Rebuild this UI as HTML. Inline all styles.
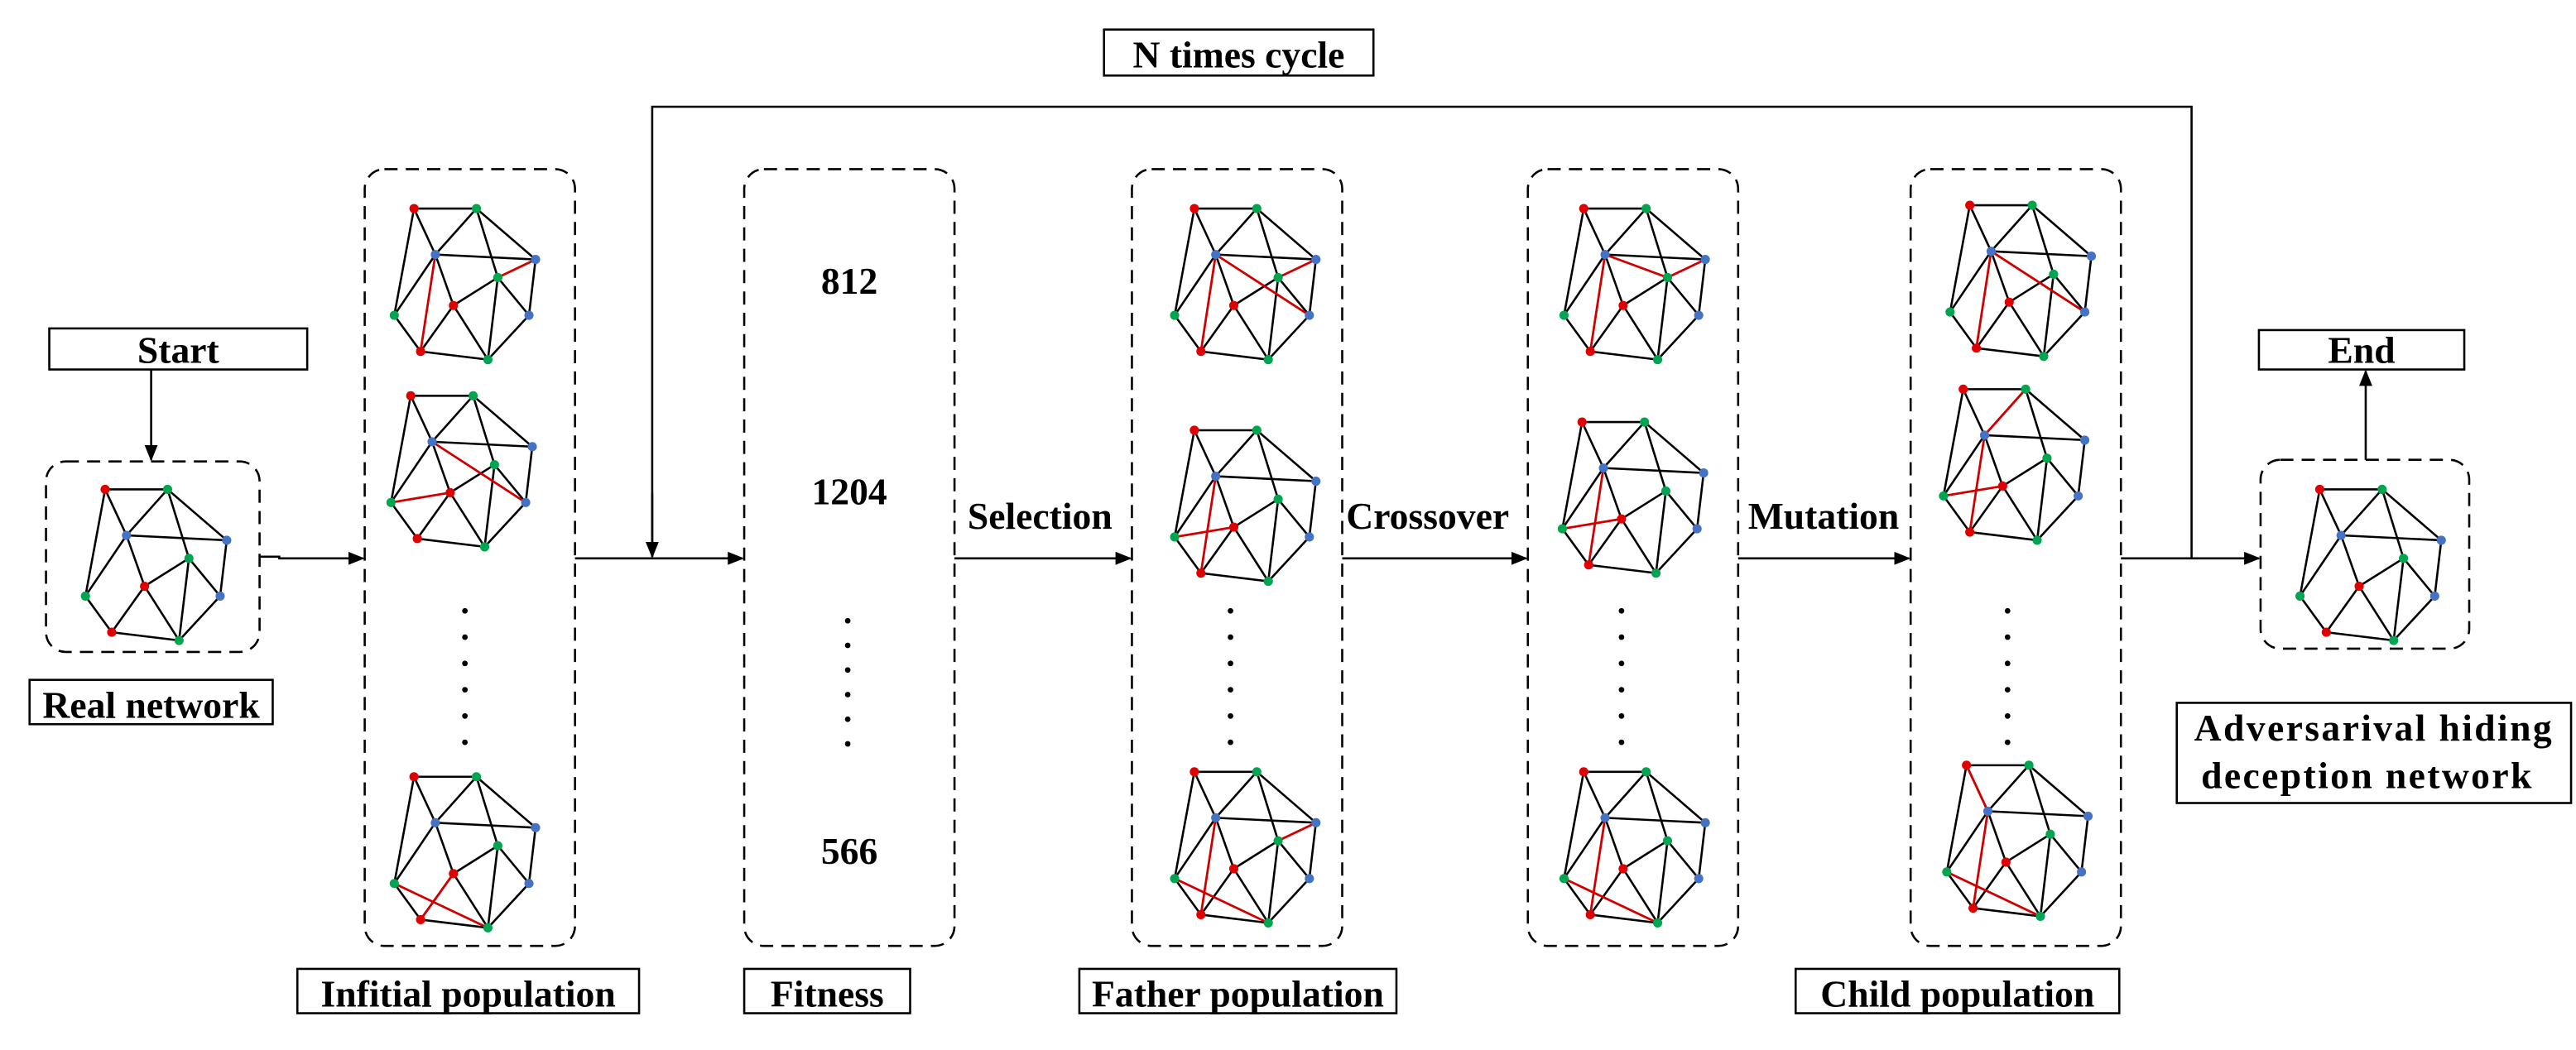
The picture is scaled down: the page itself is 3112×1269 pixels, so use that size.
<!DOCTYPE html>
<html><head><meta charset="utf-8"><style>
html,body{margin:0;padding:0;background:#fff;}
svg{display:block;}
text{font-family:"Liberation Serif",serif;font-weight:bold;fill:#000;}
</style></head><body>
<svg width="3112" height="1269" viewBox="0 0 1568 639.4" preserveAspectRatio="none" xmlns="http://www.w3.org/2000/svg">
<defs>
<marker id="ar" markerWidth="10" markerHeight="8" refX="9" refY="4" orient="auto" markerUnits="userSpaceOnUse">
<path d="M0,0 L10,4 L0,8 Z" fill="#000"/></marker>
<g id="e" stroke="#000" stroke-width="1.3" fill="none">
<line x1="0" y1="0" x2="38" y2="0"/><line x1="0" y1="0" x2="13" y2="28"/><line x1="0" y1="0" x2="-12" y2="65"/>
<line x1="38" y1="0" x2="13" y2="28"/><line x1="38" y1="0" x2="51" y2="42"/><line x1="38" y1="0" x2="74" y2="31"/>
<line x1="13" y1="28" x2="74" y2="31"/><line x1="13" y1="28" x2="24" y2="59"/><line x1="13" y1="28" x2="-12" y2="65"/>
<line x1="51" y1="42" x2="24" y2="59"/><line x1="51" y1="42" x2="70" y2="65"/><line x1="51" y1="42" x2="45" y2="92"/>
<line x1="74" y1="31" x2="70" y2="65"/><line x1="24" y1="59" x2="4" y2="87"/><line x1="24" y1="59" x2="45" y2="92"/>
<line x1="-12" y1="65" x2="4" y2="87"/><line x1="4" y1="87" x2="45" y2="92"/><line x1="70" y1="65" x2="45" y2="92"/>
</g>
<g id="n">
<circle cx="0" cy="0" r="2.8" fill="#e00000"/><circle cx="38" cy="0" r="2.8" fill="#00a550"/>
<circle cx="13" cy="28" r="2.8" fill="#4472c4"/><circle cx="74" cy="31" r="2.8" fill="#4472c4"/>
<circle cx="51" cy="42" r="2.8" fill="#00a550"/><circle cx="24" cy="59" r="2.8" fill="#e00000"/>
<circle cx="-12" cy="65" r="2.8" fill="#00a550"/><circle cx="70" cy="65" r="2.8" fill="#4472c4"/>
<circle cx="4" cy="87" r="2.8" fill="#e00000"/><circle cx="45" cy="92" r="2.8" fill="#00a550"/>
</g>
</defs>

<g stroke="#000" stroke-width="1.3" fill="none">
<g stroke-dasharray="8 5">
<rect x="28" y="281" width="130" height="116" rx="12"/>
<rect x="222" y="103" width="128" height="473" rx="12"/>
<rect x="453" y="103" width="128" height="473" rx="12"/>
<rect x="689" y="103" width="128" height="473" rx="12"/>
<rect x="930" y="103" width="128" height="473" rx="12"/>
<rect x="1163" y="103" width="128" height="473" rx="12"/>
<rect x="1376" y="280" width="127" height="115" rx="12"/>
</g>
<rect x="30" y="200" width="157" height="25"/>
<rect x="18" y="414" width="148" height="27"/>
<rect x="181" y="590" width="208" height="27"/>
<rect x="453" y="590" width="101" height="27"/>
<rect x="657" y="590" width="193" height="27"/>
<rect x="1093" y="590" width="197" height="27"/>
<rect x="672" y="18" width="164" height="28"/>
<rect x="1375" y="201" width="125" height="24"/>
<rect x="1325" y="428" width="240" height="61"/>
<line x1="92" y1="225" x2="92" y2="280" marker-end="url(#ar)"/>
<polyline points="158,339 170,339 170,340 221,340" marker-end="url(#ar)"/>
<line x1="350" y1="340" x2="452" y2="340" marker-end="url(#ar)"/>
<line x1="581" y1="340" x2="688" y2="340" marker-end="url(#ar)"/>
<line x1="817" y1="340" x2="929" y2="340" marker-end="url(#ar)"/>
<line x1="1058" y1="340" x2="1162" y2="340" marker-end="url(#ar)"/>
<line x1="1291" y1="340" x2="1375" y2="340" marker-end="url(#ar)"/>
<polyline points="397,339 397,65 1334,65 1334,340"/>
<line x1="397" y1="300" x2="397" y2="339" marker-end="url(#ar)"/>
<line x1="1440" y1="280" x2="1440" y2="226" marker-end="url(#ar)"/>
</g>

<g font-size="23" text-anchor="middle">
<text x="108.5" y="221">Start</text>
<text x="92" y="437">Real network</text>
<text x="285" y="613">Infitial population</text>
<text x="503.5" y="613">Fitness</text>
<text x="753.5" y="613">Father population</text>
<text x="1191.5" y="613">Child population</text>
<text x="754" y="41">N times cycle</text>
<text x="1437.5" y="221">End</text>
<text x="1445" y="451" letter-spacing="1.2">Adversarival hiding</text>
<text x="1441" y="480" letter-spacing="1.2">deception  network</text>
<text x="633" y="322">Selection</text>
<text x="869" y="322">Crossover</text>
<text x="1110" y="322">Mutation</text>
<text x="517" y="179">812</text>
<text x="517" y="307">1204</text>
<text x="517" y="526">566</text>
</g>

<g fill="#000">
<circle cx="516" cy="378" r="1.7"/><circle cx="516" cy="393" r="1.7"/><circle cx="516" cy="408" r="1.7"/><circle cx="516" cy="423" r="1.7"/><circle cx="516" cy="438" r="1.7"/><circle cx="516" cy="453" r="1.7"/>
<circle cx="283" cy="372" r="1.7"/><circle cx="283" cy="388" r="1.7"/><circle cx="283" cy="404" r="1.7"/><circle cx="283" cy="420" r="1.7"/><circle cx="283" cy="436" r="1.7"/><circle cx="283" cy="452" r="1.7"/>
<circle cx="749" cy="372" r="1.7"/><circle cx="749" cy="388" r="1.7"/><circle cx="749" cy="404" r="1.7"/><circle cx="749" cy="420" r="1.7"/><circle cx="749" cy="436" r="1.7"/><circle cx="749" cy="452" r="1.7"/>
<circle cx="987" cy="372" r="1.7"/><circle cx="987" cy="388" r="1.7"/><circle cx="987" cy="404" r="1.7"/><circle cx="987" cy="420" r="1.7"/><circle cx="987" cy="436" r="1.7"/><circle cx="987" cy="452" r="1.7"/>
<circle cx="1222" cy="372" r="1.7"/><circle cx="1222" cy="388" r="1.7"/><circle cx="1222" cy="404" r="1.7"/><circle cx="1222" cy="420" r="1.7"/><circle cx="1222" cy="436" r="1.7"/><circle cx="1222" cy="452" r="1.7"/>
</g>

<g transform="translate(64,298)"><use href="#e"/><use href="#n"/></g>

<g transform="translate(252,127)"><use href="#e"/><g stroke="#d00000" stroke-width="1.4"><line x1="13" y1="28" x2="4" y2="87"/><line x1="51" y1="42" x2="74" y2="31"/></g><use href="#n"/></g>
<g transform="translate(250,241)"><use href="#e"/><g stroke="#d00000" stroke-width="1.4"><line x1="13" y1="28" x2="70" y2="65"/><line x1="-12" y1="65" x2="24" y2="59"/></g><use href="#n"/></g>
<g transform="translate(252,473)"><use href="#e"/><g stroke="#d00000" stroke-width="1.4"><line x1="-12" y1="65" x2="45" y2="92"/><line x1="24" y1="59" x2="4" y2="87"/></g><use href="#n"/></g>

<g transform="translate(727,127)"><use href="#e"/><g stroke="#d00000" stroke-width="1.4"><line x1="13" y1="28" x2="4" y2="87"/><line x1="13" y1="28" x2="70" y2="65"/><line x1="51" y1="42" x2="74" y2="31"/></g><use href="#n"/></g>
<g transform="translate(727,262)"><use href="#e"/><g stroke="#d00000" stroke-width="1.4"><line x1="13" y1="28" x2="4" y2="87"/><line x1="-12" y1="65" x2="24" y2="59"/></g><use href="#n"/></g>
<g transform="translate(727,470)"><use href="#e"/><g stroke="#d00000" stroke-width="1.4"><line x1="13" y1="28" x2="4" y2="87"/><line x1="-12" y1="65" x2="45" y2="92"/><line x1="51" y1="42" x2="74" y2="31"/></g><use href="#n"/></g>

<g transform="translate(964,127)"><use href="#e"/><g stroke="#d00000" stroke-width="1.4"><line x1="13" y1="28" x2="4" y2="87"/><line x1="13" y1="28" x2="51" y2="42"/><line x1="51" y1="42" x2="74" y2="31"/></g><use href="#n"/></g>
<g transform="translate(963,257)"><use href="#e"/><g stroke="#d00000" stroke-width="1.4"><line x1="13" y1="28" x2="4" y2="87"/><line x1="-12" y1="65" x2="24" y2="59"/></g><use href="#n"/></g>
<g transform="translate(964,470)"><use href="#e"/><g stroke="#d00000" stroke-width="1.4"><line x1="13" y1="28" x2="4" y2="87"/><line x1="-12" y1="65" x2="45" y2="92"/></g><use href="#n"/></g>

<g transform="translate(1199,125)"><use href="#e"/><g stroke="#d00000" stroke-width="1.4"><line x1="13" y1="28" x2="4" y2="87"/><line x1="13" y1="28" x2="70" y2="65"/></g><use href="#n"/></g>
<g transform="translate(1195,237)"><use href="#e"/><g stroke="#d00000" stroke-width="1.4"><line x1="13" y1="28" x2="4" y2="87"/><line x1="13" y1="28" x2="38" y2="0"/><line x1="-12" y1="65" x2="24" y2="59"/></g><use href="#n"/></g>
<g transform="translate(1197,466)"><use href="#e"/><g stroke="#d00000" stroke-width="1.4"><line x1="13" y1="28" x2="4" y2="87"/><line x1="0" y1="0" x2="13" y2="28"/><line x1="-12" y1="65" x2="45" y2="92"/></g><use href="#n"/></g>

<g transform="translate(1412,298)"><use href="#e"/><use href="#n"/></g>
</svg>
</body></html>
